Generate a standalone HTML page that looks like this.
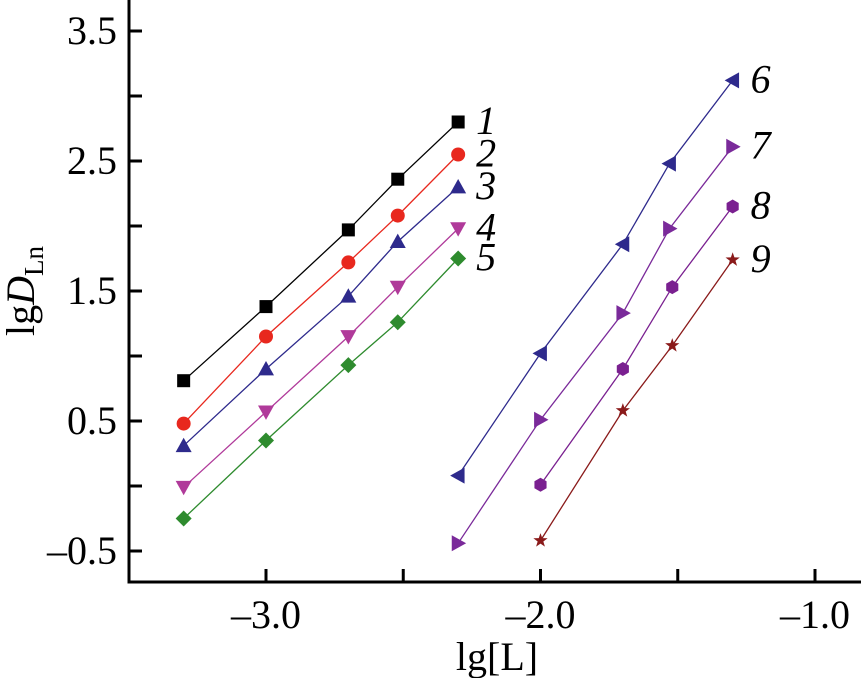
<!DOCTYPE html>
<html><head><meta charset="utf-8"><style>
body{margin:0;background:#fff;}
svg text{font-family:"Liberation Serif",serif;}
</style></head><body>
<svg id="chart" width="863" height="678" xmlns="http://www.w3.org/2000/svg"></svg>
<script>
const xTicks=[-3.0,-2.0,-1.0];
const xTickLabels=["\u20133.0","\u20132.0","\u20131.0"];
const yTicks=[3.5,2.5,1.5,0.5,-0.5];
const yTickLabels=["3.5","2.5","1.5","0.5","\u20130.5"];
const xA=[-3.30,-3.0,-2.70,-2.52,-2.30];
const xB=[-2.30,-2.0,-1.70,-1.53,-1.30];
const xC=[-2.0,-1.70,-1.52,-1.30];
const y1=[0.81,1.38,1.97,2.36,2.80];
const y2=[0.48,1.15,1.72,2.08,2.55];
const y3=[0.31,0.90,1.46,1.88,2.30];
const y4=[-0.01,0.57,1.15,1.53,1.98];
const y5=[-0.25,0.35,0.93,1.26,1.75];
const y6=[0.08,1.02,1.86,2.48,3.12];
const y7=[-0.44,0.51,1.33,1.98,2.61];
const y8=[0.01,0.90,1.53,2.15];
const y9=[-0.42,0.58,1.08,1.74];
const seriesNames=["1","2","3","4","5","6","7","8","9"];
const series=[
 {x:xA,y:y1,c:"#000000",m:"square"},
 {x:xA,y:y2,c:"#e8281e",m:"circle"},
 {x:xA,y:y3,c:"#2e2a8c",m:"up"},
 {x:xA,y:y4,c:"#b03a9a",m:"down"},
 {x:xA,y:y5,c:"#2e8b2e",m:"diamond"},
 {x:xB,y:y6,c:"#2e2a8c",m:"left"},
 {x:xB,y:y7,c:"#7a2a9a",m:"right"},
 {x:xC,y:y8,c:"#7a2090",m:"hex"},
 {x:xC,y:y9,c:"#8a1a1a",m:"star"}
];
const X=v=>266+(v+3)*274.5;
const Y=v=>31+(3.5-v)*130;
const svg=document.getElementById('chart');
const NS="http://www.w3.org/2000/svg";
function mk(t,a,p){const e=document.createElementNS(NS,t);for(const k in a)e.setAttribute(k,a[k]);(p||svg).appendChild(e);return e;}
let ax=mk('path',{d:"M129,0 L129,582 L861,582",fill:"none",stroke:"#000","stroke-width":3});


for(let v=-3.5;v<=-0.9;v+=0.5){if(Math.abs(v+3.5)<0.01)continue;const t=mk('line',{x1:X(v),x2:X(v),y1:582,y2:569,stroke:"#000","stroke-width":3});

}
for(let v=-0.5;v<=3.51;v+=0.5){const t=mk('line',{x1:129,x2:142,y1:Y(v),y2:Y(v),stroke:"#000","stroke-width":3});

}
xTicks.forEach((v,i)=>{const t=mk('text',{x:X(v),y:628,"font-size":40,"text-anchor":"middle"});t.textContent=xTickLabels[i];

});
yTicks.forEach((v,i)=>{const t=mk('text',{x:117,y:Y(v)+13,"font-size":40,"text-anchor":"end"});t.textContent=yTickLabels[i];

});
let xt=mk('text',{x:497,y:670,"font-size":40,"text-anchor":"middle"});xt.textContent="lg[L]";


let yt=mk('text',{x:0,y:0,"font-size":40,"text-anchor":"middle",transform:"translate(34,291) rotate(-90)"});
yt.innerHTML='lg<tspan font-style="italic">D</tspan><tspan font-size="27" dy="9">Ln</tspan>';


function marker(m,cx,cy,c,g){const r=8;let e;
 if(m==="square")e=mk('rect',{x:cx-6.5,y:cy-6.5,width:13,height:13,fill:c},g);
 else if(m==="circle")e=mk('circle',{cx,cy,r:7,fill:c},g);
 else{let p;
  if(m==="up")p=[[0,-r],[r,r*0.8],[-r,r*0.8]];
  else if(m==="down")p=[[0,r],[r,-r*0.8],[-r,-r*0.8]];
  else if(m==="left")p=[[-r,0],[r*0.8,-r],[r*0.8,r]];
  else if(m==="right")p=[[r,0],[-r*0.8,-r],[-r*0.8,r]];
  else if(m==="diamond")p=[[0,-r],[r,0],[0,r],[-r,0]];
  else if(m==="hex"){p=[];for(let k=0;k<6;k++){const a=Math.PI/3*k+Math.PI/6;p.push([7*Math.cos(a),7*Math.sin(a)]);}}
  else{p=[];for(let k=0;k<10;k++){const a=-Math.PI/2+Math.PI/5*k;const rr=k%2?3:7.5;p.push([rr*Math.cos(a),rr*Math.sin(a)]);}}
  e=mk('polygon',{points:p.map(q=>(cx+q[0])+","+(cy+q[1])).join(" "),fill:c},g);}
 return e;}
series.forEach((s,i)=>{
 const g=mk('g',{});
 
 
 const l=mk('polyline',{points:s.x.map((v,j)=>X(v)+","+Y(s.y[j])).join(" "),fill:"none",stroke:s.c,"stroke-width":1.3},g);
 
 
 s.x.forEach((v,j)=>{const e=marker(s.m,X(v),Y(s.y[j]),s.c,g);
  
  });
 const n=s.x.length-1;
 const t=mk('text',{x:X(s.x[n])+18,y:Y(s.y[n])+12,"font-size":40,"font-style":"italic"});
 t.textContent=seriesNames[i];
 
 
});
</script>
</body></html>
